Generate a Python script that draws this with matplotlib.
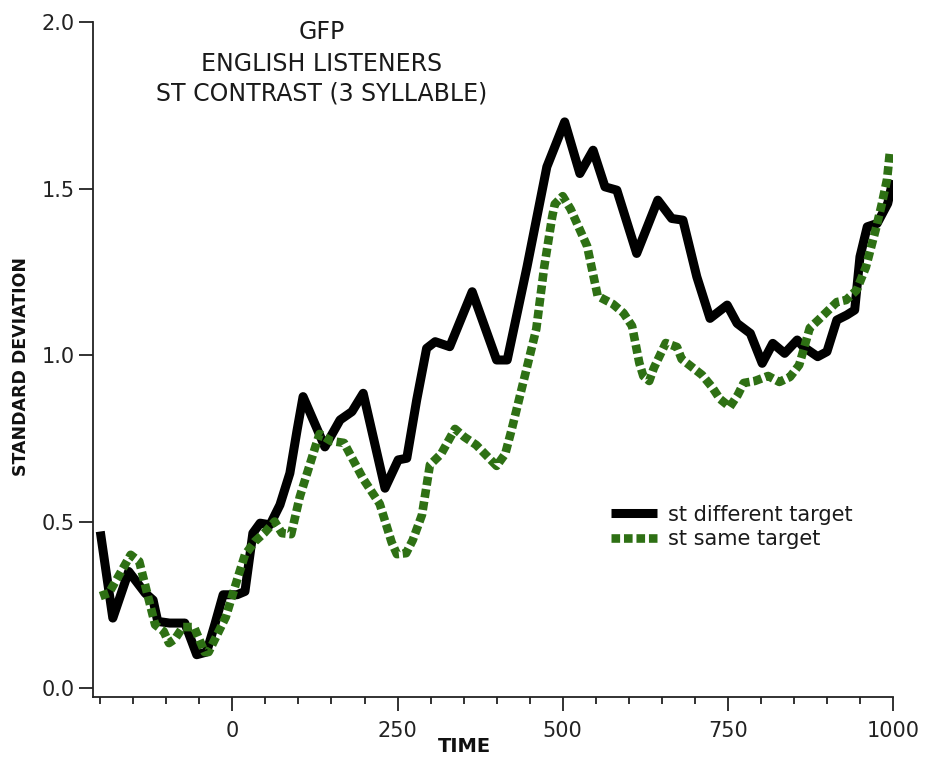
import matplotlib
matplotlib.use("Agg")
import matplotlib.pyplot as plt
from matplotlib.ticker import MultipleLocator, FixedLocator

# st different target (black)
diff_t = [-200, -181, -157, -132, -120, -113, -95, -72, -54, -39, -26, -14, 7, 19, 31, 42, 57,
          72, 87, 98, 107, 140, 163, 181, 198, 231, 251, 264, 279, 294, 307, 329, 363, 400,
          416, 446, 476, 503, 526, 546, 564, 582, 612, 644, 665, 682, 703, 723, 749, 764,
          784, 802, 818, 836, 855, 864, 886, 900, 915, 930, 942, 950, 961, 976, 992, 1000]
diff_sd = [0.47, 0.21, 0.35, 0.285, 0.264, 0.20, 0.195, 0.195, 0.10, 0.108, 0.195, 0.28, 0.28,
           0.29, 0.465, 0.495, 0.49, 0.55, 0.645, 0.775, 0.875, 0.724, 0.805, 0.83, 0.885,
           0.60, 0.685, 0.69, 0.865, 1.02, 1.04, 1.025, 1.19, 0.985, 0.985, 1.265, 1.565,
           1.70, 1.545, 1.615, 1.505, 1.495, 1.305, 1.465, 1.41, 1.405, 1.235, 1.11, 1.15,
           1.095, 1.065, 0.975, 1.035, 1.005, 1.045, 1.025, 0.995, 1.01, 1.105, 1.12, 1.135,
           1.295, 1.385, 1.395, 1.455, 1.525]

# st same target (green)
same_t = [-200, -187, -154, -141, -117, -104, -96, -87, -75, -58, -42, -36, -10, 7, 19, 34, 48,
          64, 75, 89, 102, 126, 132, 149, 169, 198, 223, 241, 249, 263, 273, 287, 299, 316,
          337, 351, 369, 400, 413, 423, 446, 460, 472, 484, 488, 500, 512, 537, 553, 576,
          592, 605, 616, 622, 631, 638, 656, 673, 680, 711, 726, 738, 753, 765, 774, 791,
          811, 828, 844, 858, 874, 887, 915, 929, 945, 959, 974, 983, 991, 995]
same_sd = [0.276, 0.285, 0.40, 0.38, 0.19, 0.17, 0.135, 0.147, 0.183, 0.183, 0.108, 0.108,
           0.213, 0.324, 0.40, 0.44, 0.465, 0.50, 0.465, 0.462, 0.574, 0.727, 0.763, 0.742,
           0.736, 0.628, 0.553, 0.438, 0.402, 0.405, 0.444, 0.52, 0.67, 0.703, 0.778, 0.754,
           0.73, 0.667, 0.703, 0.778, 0.964, 1.078, 1.264, 1.414, 1.453, 1.477, 1.438, 1.327,
           1.177, 1.153, 1.126, 1.087, 0.976, 0.937, 0.922, 0.961, 1.036, 1.024, 0.988, 0.94,
           0.904, 0.868, 0.844, 0.88, 0.916, 0.922, 0.937, 0.919, 0.934, 0.97, 1.081, 1.105,
           1.159, 1.165, 1.195, 1.264, 1.378, 1.453, 1.528, 1.604]

title_lines = ["GFP", "ENGLISH LISTENERS", "ST CONTRAST (3 SYLLABLE)"]
green = "#2e7014"

fig = plt.figure(figsize=(9.51, 7.76), dpi=100)
ax = fig.add_axes([93 / 951, 1 - 697 / 776, 800 / 951, 675 / 776])

ax.plot(diff_t, diff_sd, color="black", lw=6.5, solid_joinstyle="round",
        solid_capstyle="butt", label="st different target", zorder=2)
ax.plot(same_t, same_sd, color=green, lw=6.2, dashes=(1, 0.45),
        dash_capstyle="butt", label="st same target", zorder=3)

ax.set_xlim(-211, 1000)
ax.set_ylim(-0.027, 2.0)

ax.spines["right"].set_visible(False)
ax.spines["top"].set_visible(False)
for s in ["left", "bottom"]:
    ax.spines[s].set_linewidth(1.3)
    ax.spines[s].set_color("#222222")

ax.xaxis.set_major_locator(FixedLocator([0, 250, 500, 750, 1000]))
ax.xaxis.set_minor_locator(MultipleLocator(50))
ax.yaxis.set_major_locator(FixedLocator([0.0, 0.5, 1.0, 1.5, 2.0]))
ax.set_yticklabels(["0.0", "0.5", "1.0", "1.5", "2.0"])
ax.tick_params(axis="x", which="major", length=10, width=1.3, pad=7, labelsize=15,
               color="#222222", labelcolor="#222222")
ax.tick_params(axis="x", which="minor", length=5, width=1.3, color="#222222")
ax.tick_params(axis="y", which="major", length=10, width=1.3, pad=3, labelsize=15,
               color="#222222", labelcolor="#222222")

leg = ax.legend(loc="upper left", bbox_to_anchor=(0.6475, 0.285), frameon=False,
                fontsize=15, handlelength=2.2, handletextpad=0.55, borderpad=0,
                borderaxespad=0, labelspacing=0.2)
for t in leg.get_texts():
    t.set_color("#1a1a1a")

for line, yb in zip(title_lines, [39, 71, 101]):
    fig.text(322 / 951, 1 - yb / 776, line, ha="center", va="baseline",
             fontsize=17, color="#1a1a1a")

fig.text(464 / 951, 1 - 747 / 776, "TIME", ha="center", va="center",
         fontsize=14, fontweight="bold", color="#111111")
fig.text(21 / 951, 1 - 366 / 776, "STANDARD DEVIATION", ha="center", va="center",
         rotation=90, fontsize=12.5, fontweight="bold", color="#111111")

fig.savefig("out.png", dpi=100)
